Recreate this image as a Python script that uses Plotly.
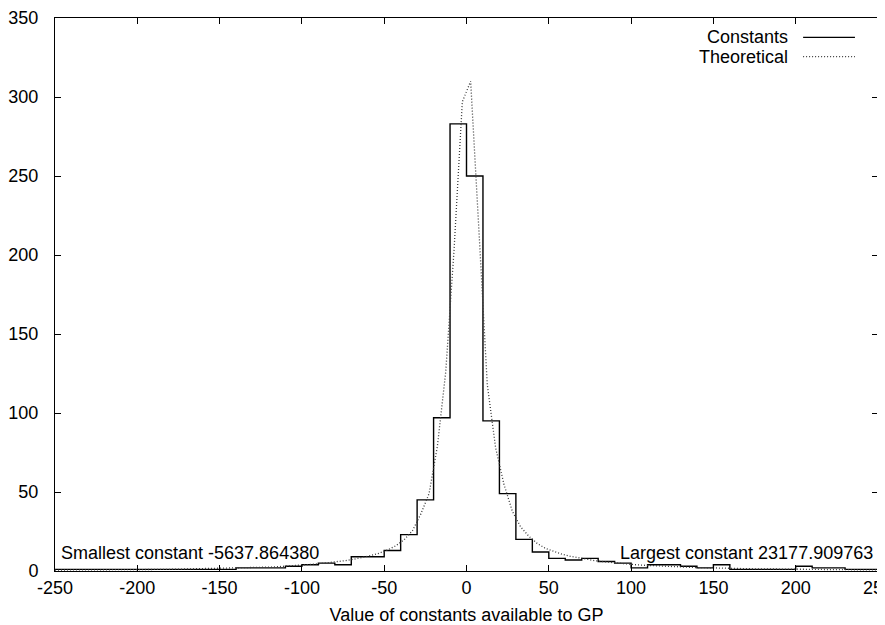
import numpy as np
import plotly.graph_objects as go

# Histogram of constants: bin centers (width 10) and counts
bin_centers = list(range(-245, 250, 10))
bin_counts = [
    1, 1, 1, 1, 1, 1, 1, 1, 1, 1,      # -250 .. -150
    1, 2, 2, 2, 3, 4, 5, 4, 9, 9,      # -150 .. -50
    13, 23, 45, 97, 283, 250, 95, 49, 20, 12,  # -50 .. 50
    8, 7, 8, 6, 5, 2, 4, 4, 3, 2,      # 50 .. 150
    4, 1, 1, 1, 1, 3, 2, 2, 1, 1,      # 150 .. 250
]
bin_width = 10

# Theoretical curve, sampled at 100 points over [-250, 250]
theo_x = list(np.linspace(-250, 250, 100))
theo_y = [
    0.6, 0.6, 0.7, 0.7, 0.7, 0.7, 0.8, 0.8, 0.8, 0.9,
    0.9, 1.0, 1.0, 1.0, 1.1, 1.2, 1.2, 1.3, 1.4, 1.5,
    1.6, 1.7, 1.8, 1.9, 2.1, 2.3, 2.5, 2.8, 3.1, 3.5,
    3.9, 4.3, 4.8, 5.3, 5.9, 6.6, 7.5, 8.5, 9.8, 11.3,
    13.3, 16.0, 19.8, 25.5, 36.0, 49.0, 79.0, 126.0, 203.0, 297.0,
    310.0, 215.0, 118.0, 78.0, 55.0, 38.0, 28.0, 22.0, 17.5, 14.3,
    12.2, 10.6, 9.3, 8.2, 7.3, 6.5, 5.9, 5.3, 4.8, 4.3,
    3.9, 3.6, 3.3, 3.0, 2.8, 2.6, 2.4, 2.2, 2.1, 1.9,
    1.8, 1.7, 1.6, 1.5, 1.4, 1.4, 1.3, 1.2, 1.2, 1.1,
    1.1, 1.0, 1.0, 0.9, 0.9, 0.9, 0.8, 0.8, 0.8, 0.7,
]

x_ticks = [-250, -200, -150, -100, -50, 0, 50, 100, 150, 200, 250]
y_ticks = [0, 50, 100, 150, 200, 250, 300, 350]

smallest_label = "Smallest constant -5637.864380"
largest_label = "Largest constant 23177.909763"
x_title = "Value of constants available to GP"
legend_names = ["Constants", "Theoretical"]

FONT = "Liberation Sans, Arial, Helvetica, sans-serif"
FS = 18

# step edges from bin centers
edges = [c - bin_width / 2 for c in bin_centers] + [bin_centers[-1] + bin_width / 2]
step_y = bin_counts + [bin_counts[-1]]

fig = go.Figure()
fig.add_trace(go.Scatter(
    x=edges, y=step_y, mode="lines", line_shape="hv",
    line=dict(color="black", width=1.4), name=legend_names[0], showlegend=False,
))
fig.add_trace(go.Scatter(
    x=theo_x, y=theo_y, mode="lines",
    line=dict(color="#3a3a3a", width=1.3, dash="1px,2px"), name=legend_names[1], showlegend=False,
))

# manual gnuplot-style legend (text left, sample right)
leg_y = [0.965, 0.930]
leg_dash = ["solid", "1px,2px"]
for name, yy, dd in zip(legend_names, leg_y, leg_dash):
    fig.add_annotation(x=0.8935, y=yy, xref="paper", yref="paper", text=name,
                       showarrow=False, xanchor="right", yanchor="middle",
                       font=dict(family=FONT, size=FS, color="black"))
    fig.add_shape(type="line", xref="paper", yref="paper", x0=0.909, x1=0.972, y0=yy, y1=yy,
                  line=dict(color="black" if dd == "solid" else "#3a3a3a", width=1.2, dash=dd))

fig.add_annotation(x=-247.6, y=11.5, text=smallest_label, showarrow=False,
                   xanchor="left", yanchor="middle", font=dict(family=FONT, size=FS, color="black"))
fig.add_annotation(x=248, y=11.5, text=largest_label, showarrow=False,
                   xanchor="right", yanchor="middle", font=dict(family=FONT, size=FS, color="black"))

fig.update_layout(
    width=885, height=625,
    margin=dict(l=47, r=15, t=10, b=62, pad=0, autoexpand=False),
    paper_bgcolor="white", plot_bgcolor="white",
    font=dict(family=FONT, size=FS, color="black"),
    showlegend=False,
)
fig.update_xaxes(
    range=[-250, 250], tickvals=x_ticks, ticktext=[str(v) for v in x_ticks],
    showgrid=False, zeroline=False, showline=True, linecolor="black", linewidth=1,
    mirror="ticks", ticks="inside", ticklen=6, tickcolor="black", tickwidth=1,
    ticklabelstandoff=0, automargin=False, ticklabeloverflow="allow",
    title=dict(text=x_title, standoff=11, font=dict(family=FONT, size=FS)),
)
fig.update_yaxes(
    range=[0, 350], tickvals=y_ticks, ticktext=[str(v) for v in y_ticks],
    showgrid=False, zeroline=False, showline=True, linecolor="black", linewidth=1,
    mirror="ticks", ticks="inside", ticklen=6, tickcolor="black", tickwidth=1,
    ticklabelstandoff=12, automargin=False,
)

fig.write_html("out.html")
